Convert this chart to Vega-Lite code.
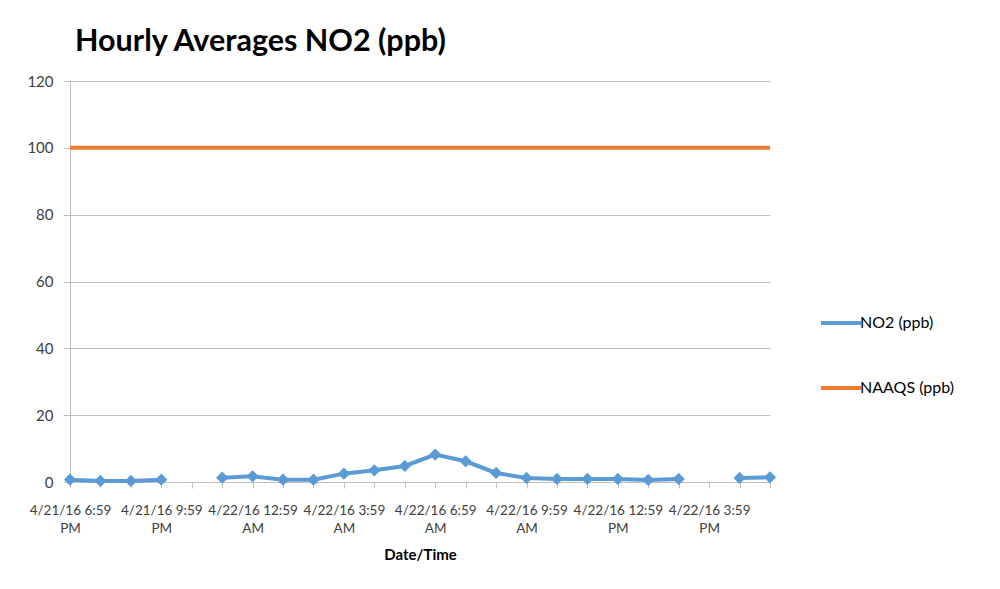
{
  "$schema": "https://vega.github.io/schema/vega-lite/v6.json",
  "autosize": "none",
  "width": 700,
  "height": 401,
  "padding": {"left": 70, "top": 81, "right": 230, "bottom": 107},
  "background": "white",
  "config": {
    "font": "Lato",
    "view": {"stroke": null},
    "axis": {"labelFont": "Lato", "titleFont": "Lato", "labelColor": "#404040", "domainColor": "#bfbfbf", "tickColor": "#bfbfbf", "gridColor": "#bfbfbf"}
  },
  "title": {
    "text": "Hourly Averages NO2 (ppb)",
    "anchor": "start",
    "frame": "group",
    "font": "Lato",
    "fontSize": 30.5,
    "fontWeight": "bold",
    "color": "#000000",
    "offset": 17,
    "dx": 5
  },
  "data": {
    "values": [
      {"time": "4/21/16 6:59 PM", "series": "NO2 (ppb)", "value": 0.7},
      {"time": "4/21/16 7:59 PM", "series": "NO2 (ppb)", "value": 0.3},
      {"time": "4/21/16 8:59 PM", "series": "NO2 (ppb)", "value": 0.3},
      {"time": "4/21/16 9:59 PM", "series": "NO2 (ppb)", "value": 0.7},
      {"time": "4/21/16 10:59 PM", "series": "NO2 (ppb)", "value": null},
      {"time": "4/21/16 11:59 PM", "series": "NO2 (ppb)", "value": 1.3},
      {"time": "4/22/16 12:59 AM", "series": "NO2 (ppb)", "value": 1.7},
      {"time": "4/22/16 1:59 AM", "series": "NO2 (ppb)", "value": 0.7},
      {"time": "4/22/16 2:59 AM", "series": "NO2 (ppb)", "value": 0.7},
      {"time": "4/22/16 3:59 AM", "series": "NO2 (ppb)", "value": 2.5},
      {"time": "4/22/16 4:59 AM", "series": "NO2 (ppb)", "value": 3.5},
      {"time": "4/22/16 5:59 AM", "series": "NO2 (ppb)", "value": 4.8},
      {"time": "4/22/16 6:59 AM", "series": "NO2 (ppb)", "value": 8.2},
      {"time": "4/22/16 7:59 AM", "series": "NO2 (ppb)", "value": 6.2},
      {"time": "4/22/16 8:59 AM", "series": "NO2 (ppb)", "value": 2.7},
      {"time": "4/22/16 9:59 AM", "series": "NO2 (ppb)", "value": 1.2},
      {"time": "4/22/16 10:59 AM", "series": "NO2 (ppb)", "value": 0.9},
      {"time": "4/22/16 11:59 AM", "series": "NO2 (ppb)", "value": 0.9},
      {"time": "4/22/16 12:59 PM", "series": "NO2 (ppb)", "value": 0.9},
      {"time": "4/22/16 1:59 PM", "series": "NO2 (ppb)", "value": 0.6},
      {"time": "4/22/16 2:59 PM", "series": "NO2 (ppb)", "value": 0.9},
      {"time": "4/22/16 3:59 PM", "series": "NO2 (ppb)", "value": null},
      {"time": "4/22/16 4:59 PM", "series": "NO2 (ppb)", "value": 1.2},
      {"time": "4/22/16 5:59 PM", "series": "NO2 (ppb)", "value": 1.4},
      {"time": "4/21/16 6:59 PM", "series": "NAAQS (ppb)", "value": 100},
      {"time": "4/21/16 7:59 PM", "series": "NAAQS (ppb)", "value": 100},
      {"time": "4/21/16 8:59 PM", "series": "NAAQS (ppb)", "value": 100},
      {"time": "4/21/16 9:59 PM", "series": "NAAQS (ppb)", "value": 100},
      {"time": "4/21/16 10:59 PM", "series": "NAAQS (ppb)", "value": 100},
      {"time": "4/21/16 11:59 PM", "series": "NAAQS (ppb)", "value": 100},
      {"time": "4/22/16 12:59 AM", "series": "NAAQS (ppb)", "value": 100},
      {"time": "4/22/16 1:59 AM", "series": "NAAQS (ppb)", "value": 100},
      {"time": "4/22/16 2:59 AM", "series": "NAAQS (ppb)", "value": 100},
      {"time": "4/22/16 3:59 AM", "series": "NAAQS (ppb)", "value": 100},
      {"time": "4/22/16 4:59 AM", "series": "NAAQS (ppb)", "value": 100},
      {"time": "4/22/16 5:59 AM", "series": "NAAQS (ppb)", "value": 100},
      {"time": "4/22/16 6:59 AM", "series": "NAAQS (ppb)", "value": 100},
      {"time": "4/22/16 7:59 AM", "series": "NAAQS (ppb)", "value": 100},
      {"time": "4/22/16 8:59 AM", "series": "NAAQS (ppb)", "value": 100},
      {"time": "4/22/16 9:59 AM", "series": "NAAQS (ppb)", "value": 100},
      {"time": "4/22/16 10:59 AM", "series": "NAAQS (ppb)", "value": 100},
      {"time": "4/22/16 11:59 AM", "series": "NAAQS (ppb)", "value": 100},
      {"time": "4/22/16 12:59 PM", "series": "NAAQS (ppb)", "value": 100},
      {"time": "4/22/16 1:59 PM", "series": "NAAQS (ppb)", "value": 100},
      {"time": "4/22/16 2:59 PM", "series": "NAAQS (ppb)", "value": 100},
      {"time": "4/22/16 3:59 PM", "series": "NAAQS (ppb)", "value": 100},
      {"time": "4/22/16 4:59 PM", "series": "NAAQS (ppb)", "value": 100},
      {"time": "4/22/16 5:59 PM", "series": "NAAQS (ppb)", "value": 100}
    ]
  },
  "encoding": {
    "x": {
      "field": "time",
      "type": "ordinal",
      "sort": null,
      "scale": {"type": "point", "padding": 0},
      "axis": {
        "title": "Date/Time",
        "titleFontSize": 15,
        "titleFontWeight": "bold",
        "titleColor": "#000000",
        "titlePadding": 13,
        "labelAngle": 0,
        "labelFontSize": 13.5,
        "labelPadding": 15,
        "labelLineHeight": 18,
        "labelOverlap": false,
        "labelExpr": "test(/ (6|9|12|3):59 /, datum.value + ' ') ? [slice(datum.value, 0, lastindexof(datum.value, ' ')), slice(datum.value, lastindexof(datum.value, ' ') + 1)] : ''",
        "tickSize": 6,
        "grid": false,
        "domainWidth": 1
      }
    },
    "y": {
      "field": "value",
      "type": "quantitative",
      "scale": {"domain": [0, 120]},
      "axis": {
        "title": null,
        "values": [0, 20, 40, 60, 80, 100, 120],
        "labelFontSize": 15,
        "labelPadding": 10,
        "tickSize": 7,
        "grid": true,
        "domain": true
      }
    }
  },
  "layer": [
    {
      "mark": {"type": "line", "strokeWidth": 4},
      "encoding": {
        "color": {
          "field": "series",
          "type": "nominal",
          "scale": {"domain": ["NO2 (ppb)", "NAAQS (ppb)"], "range": ["#5B9BD5", "#ED7D31"]},
          "legend": {
            "title": null,
            "orient": "none",
            "legendX": 749,
            "legendY": 220,
            "symbolType": "stroke",
            "symbolSize": 1600,
            "symbolStrokeWidth": 4,
            "rowPadding": 35,
            "labelFont": "Lato",
            "labelFontSize": 16,
            "labelColor": "#000000",
            "labelOffset": -3
          }
        }
      }
    },
    {
      "transform": [{"filter": "datum.series === 'NO2 (ppb)' && isValid(datum.value)"}],
      "mark": {"type": "point", "shape": "diamond", "filled": true, "size": 150, "color": "#5B9BD5", "opacity": 1}
    }
  ]
}
